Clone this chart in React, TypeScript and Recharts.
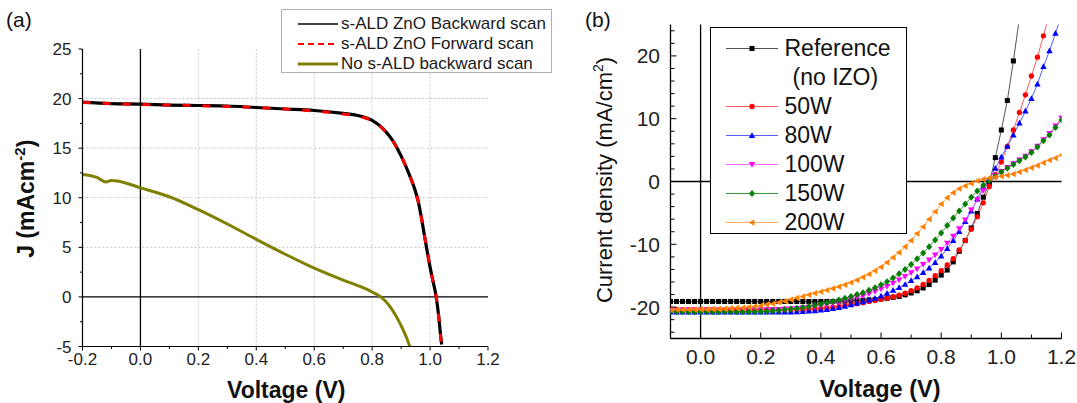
import React from 'react';
import { LineChart, Line, XAxis, YAxis, ReferenceLine, Legend, Label } from 'recharts';

const FONT = '"Liberation Sans", Arial, Helvetica, sans-serif';

// ---------------- Panel (a) data ----------------
const aScanV = [-0.2, -0.1, 0, 0.1, 0.2, 0.3, 0.4, 0.5, 0.6, 0.7, 0.75, 0.8, 0.84, 0.87, 0.89, 0.91, 0.93, 0.95, 0.96, 0.97, 0.98, 0.99, 1.0, 1.01, 1.02, 1.03, 1.035, 1.04];
const aBackwardJ = [19.65, 19.5, 19.45, 19.35, 19.3, 19.25, 19.1, 18.95, 18.8, 18.5, 18.3, 17.8, 16.9, 15.8, 14.8, 13.6, 12.2, 10.6, 9.5, 8.0, 6.3, 4.6, 3.0, 1.6, 0.2, -2.0, -3.5, -4.8];
const aForwardJ = [19.6, 19.5, 19.4, 19.35, 19.3, 19.2, 19.1, 18.95, 18.75, 18.45, 18.25, 17.75, 16.85, 15.8, 14.8, 13.6, 12.2, 10.6, 9.5, 8.0, 6.3, 4.6, 3.0, 1.6, 0.2, -2.1, -3.6, -4.9];
const aNoAldV = [-0.2, -0.15, -0.12, -0.1, -0.08, 0, 0.1, 0.2, 0.3, 0.4, 0.5, 0.6, 0.7, 0.75, 0.8, 0.83, 0.86, 0.88, 0.9, 0.92, 0.93];
const aNoAldJ = [12.35, 12.05, 11.6, 11.75, 11.7, 11.0, 10.1, 8.8, 7.35, 5.8, 4.3, 2.9, 1.7, 1.15, 0.5, 0.0, -0.9, -1.8, -2.9, -4.2, -5.0];

const aXTicks = [-0.2, -0.1, 0, 0.1, 0.2, 0.3, 0.4, 0.5, 0.6, 0.7, 0.8, 0.9, 1.0, 1.1, 1.2];
const aXMajor = [-0.2, 0, 0.2, 0.4, 0.6, 0.8, 1.0, 1.2];
const aYTicks = [-5, -2.5, 0, 2.5, 5, 7.5, 10, 12.5, 15, 17.5, 20, 22.5, 25];
const aYMajor = [-5, 0, 5, 10, 15, 20, 25];
const aGridX = [0.2, 0.4, 0.6, 0.8, 1.0];
const aGridY = [5, 10, 15, 20];

const aLegendNames = ['s-ALD ZnO Backward scan', 's-ALD ZnO Forward scan', 'No s-ALD backward scan'];

// ---------------- Panel (b) data ----------------
const bV = [-0.1, -0.08, -0.06, -0.04, -0.02, 0, 0.02, 0.04, 0.06, 0.08, 0.1, 0.12, 0.14, 0.16, 0.18, 0.2, 0.22, 0.24, 0.26, 0.28, 0.3, 0.32, 0.34, 0.36, 0.38, 0.4, 0.42, 0.44, 0.46, 0.48, 0.5, 0.52, 0.54, 0.56, 0.58, 0.6, 0.62, 0.64, 0.66, 0.68, 0.7, 0.72, 0.74, 0.76, 0.78, 0.8, 0.82, 0.84, 0.86, 0.88, 0.9, 0.92, 0.94, 0.96, 0.98, 1.0, 1.02, 1.04, 1.06, 1.08, 1.1, 1.12, 1.14, 1.16, 1.18, 1.2];

const bReference = [
  -19.1, -19.1, -19.1, -19.1, -19.1,
  -19.1, -19.1, -19.1, -19.1, -19.1,
  -19.1, -19.1, -19.1, -19.1, -19.1,
  -19.1, -19.1, -19.1, -19.1, -19.1,
  -19.1, -19.1, -19.1, -19.1, -19.1,
  -19.1, -19.1, -19.1, -19.05, -19.05,
  -19.0, -18.95, -18.9, -18.85, -18.8,
  -18.7, -18.6, -18.45, -18.3, -18.05,
  -17.75, -17.4, -16.95, -16.4, -15.7,
  -14.9, -14.1, -12.8, -11.1, -9.4,
  -7.4, -5.1, -2.5, -0.3, 3.8,
  8.2, 12.9, 19.2, 26.0,
];
const b50W = [
  -20.4, -20.4, -20.4, -20.4, -20.4,
  -20.4, -20.4, -20.4, -20.4, -20.4,
  -20.4, -20.4, -20.4, -20.4, -20.4,
  -20.4, -20.4, -20.4, -20.4, -20.4,
  -20.4, -20.35, -20.35, -20.3, -20.25,
  -20.2, -20.1, -20.0, -19.9, -19.75,
  -19.6, -19.45, -19.3, -19.1, -18.95,
  -18.75, -18.55, -18.35, -18.1, -17.8,
  -17.4, -16.95, -16.4, -15.75, -15.0,
  -14.2, -13.3, -12.3, -10.9, -9.4,
  -7.6, -5.6, -3.4, -0.8, 1.1,
  3.1, 5.6, 8.2, 11.0, 13.8,
  16.8, 19.8, 23.2, 26.8,
];
const b80W = [
  -20.8, -20.8, -20.8, -20.8, -20.8,
  -20.8, -20.8, -20.8, -20.8, -20.8,
  -20.8, -20.8, -20.8, -20.8, -20.8,
  -20.8, -20.8, -20.8, -20.8, -20.8,
  -20.8, -20.75, -20.7, -20.65, -20.6,
  -20.5, -20.4, -20.25, -20.1, -19.9,
  -19.65, -19.4, -19.15, -18.9, -18.6,
  -18.25, -17.8, -17.35, -16.9, -16.4,
  -15.8, -15.2, -14.5, -13.8, -12.9,
  -11.9, -10.7, -9.4, -8.0, -6.4,
  -4.7, -2.8, -0.9, 0.4, 2.1,
  3.9, 5.6, 7.4, 9.3, 11.2,
  13.2, 15.5, 18.3, 20.8, 23.6, 26.5,
];
const b100W = [
  -20.45, -20.45, -20.45, -20.45, -20.45,
  -20.45, -20.45, -20.45, -20.45, -20.45,
  -20.45, -20.45, -20.45, -20.45, -20.45,
  -20.45, -20.4, -20.4, -20.35, -20.3,
  -20.25, -20.2, -20.1, -20.0, -19.9,
  -19.75, -19.6, -19.4, -19.2, -18.95,
  -18.7, -18.45, -18.2, -17.85, -17.5,
  -17.1, -16.7, -16.2, -15.65, -15.1,
  -14.5, -13.9, -13.2, -12.5, -11.7,
  -10.8, -9.8, -8.7, -7.5, -6.1,
  -4.5, -2.9, -1.4, 0.1, 0.95,
  1.6, 2.25, 2.85, 3.45, 4.05,
  4.75, 5.65, 6.65, 7.65, 8.85, 10.15,
];
const b150W = [
  -20.75, -20.75, -20.75, -20.75, -20.75,
  -20.75, -20.75, -20.75, -20.75, -20.75,
  -20.75, -20.75, -20.75, -20.75, -20.75,
  -20.7, -20.65, -20.6, -20.5, -20.4,
  -20.3, -20.2, -20.05, -19.9, -19.7,
  -19.5, -19.3, -19.1, -18.85, -18.6,
  -18.3, -18.0, -17.7, -17.3, -16.9,
  -16.45, -15.95, -15.35, -14.7, -14.0,
  -13.2, -12.3, -11.4, -10.4, -9.3,
  -8.2, -7.0, -5.8, -4.7, -3.6,
  -2.5, -1.5, -0.6, 0.2, 0.8,
  1.5, 2.1, 2.7, 3.3, 3.9,
  4.6, 5.5, 6.5, 7.4, 8.6, 9.8,
];
const b200W = [
  -20.4, -20.4, -20.4, -20.4, -20.4,
  -20.35, -20.35, -20.3, -20.3, -20.25,
  -20.2, -20.15, -20.1, -20.0, -19.9,
  -19.8, -19.6, -19.45, -19.25, -19.05,
  -18.8, -18.55, -18.3, -18.05, -17.8,
  -17.55, -17.3, -17.05, -16.75, -16.45,
  -16.1, -15.7, -15.25, -14.75, -14.2,
  -13.6, -12.9, -12.1, -11.3, -10.4,
  -9.4, -8.3, -7.2, -6.0, -4.8,
  -3.6, -2.6, -1.8, -1.15, -0.7,
  -0.3, 0.1, 0.35, 0.55, 0.7,
  0.85, 1.0, 1.2, 1.5, 1.85,
  2.2, 2.55, 3.0, 3.4, 3.75, 4.2,
];

const bXTicks = [-0.1, 0, 0.1, 0.2, 0.3, 0.4, 0.5, 0.6, 0.7, 0.8, 0.9, 1.0, 1.1, 1.2];
const bXMajor = [0, 0.2, 0.4, 0.6, 0.8, 1.0, 1.2];
const bYTicks = [-24, -22, -20, -18, -16, -14, -12, -10, -8, -6, -4, -2, 0, 2, 4, 6, 8, 10, 12, 14, 16, 18, 20, 22, 24];
const bYMajor = [-20, -10, 0, 10, 20];

const bNames = ['Reference', '50W', '80W', '100W', '150W', '200W'];
const bSeriesValues = [bReference, b50W, b80W, b100W, b150W, b200W];
const bMarkerColors = ['#000000', '#ff0000', '#0000ff', '#ff00ff', '#008000', '#ff8000'];
const bLineColors = ['#555555', '#ff5a5a', '#5a5aff', '#ff66ff', '#3a9a3a', '#ffaa60'];
const bShapes = ['square', 'circle', 'up', 'down', 'diamond', 'left'];

// ---------------- helpers ----------------
const isIn = (arr: number[], v: number) => arr.some((m) => Math.abs(m - v) < 1e-9);

type TickCfg = {
  side: 'bottom' | 'left' | 'top' | 'right';
  inward: boolean;
  major: number[];
  majorLen: number;
  minorLen: number;
  fontSize: number;
  gap: number;
  label: boolean;
  fmt: (v: number) => string;
  color: string;
};

const makeTick = (cfg: TickCfg) => (props: any) => {
  const { x, y, payload, index } = props;
  const v = payload.value as number;
  const major = isIn(cfg.major, v);
  const len = major ? cfg.majorLen : cfg.minorLen;
  const d = cfg.inward ? -1 : 1;
  let x2 = x;
  let y2 = y;
  if (cfg.side === 'bottom') y2 = y + d * len;
  if (cfg.side === 'top') y2 = y - d * len;
  if (cfg.side === 'left') x2 = x - d * len;
  if (cfg.side === 'right') x2 = x + d * len;
  let text = null;
  if (cfg.label && major) {
    if (cfg.side === 'bottom') {
      text = (
        <text x={x} y={y + cfg.gap} textAnchor="middle" fontSize={cfg.fontSize} fill={cfg.color} fontFamily={FONT}>
          {cfg.fmt(v)}
        </text>
      );
    } else if (cfg.side === 'left') {
      text = (
        <text x={x - cfg.gap} y={y} dy="0.36em" textAnchor="end" fontSize={cfg.fontSize} fill={cfg.color} fontFamily={FONT}>
          {cfg.fmt(v)}
        </text>
      );
    }
  }
  return (
    <g key={`t-${index}-${v}`}>
      <line x1={x} y1={y} x2={x2} y2={y2} stroke="#000" strokeWidth={1} />
      {text}
    </g>
  );
};

const fmt1 = (v: number) => v.toFixed(1);
const fmt0 = (v: number) => String(Math.round(v));

function Marker({ shape, cx, cy, color }: { shape: string; cx: number; cy: number; color: string }) {
  const h = 2.8;
  switch (shape) {
    case 'square':
      return <rect x={cx - h * 0.9} y={cy - h * 0.9} width={h * 1.8} height={h * 1.8} fill={color} />;
    case 'circle':
      return <circle cx={cx} cy={cy} r={h * 0.95} fill={color} />;
    case 'up':
      return <polygon points={`${cx},${cy - h * 1.2} ${cx - h * 1.15},${cy + h * 0.85} ${cx + h * 1.15},${cy + h * 0.85}`} fill={color} />;
    case 'down':
      return <polygon points={`${cx},${cy + h * 1.2} ${cx - h * 1.15},${cy - h * 0.85} ${cx + h * 1.15},${cy - h * 0.85}`} fill={color} />;
    case 'diamond':
      return <polygon points={`${cx},${cy - h * 1.25} ${cx + h * 1.1},${cy} ${cx},${cy + h * 1.25} ${cx - h * 1.1},${cy}`} fill={color} />;
    default:
      return <polygon points={`${cx - h * 1.2},${cy} ${cx + h * 0.85},${cy - h * 1.15} ${cx + h * 0.85},${cy + h * 1.15}`} fill={color} />;
  }
}

const makeDot = (shape: string, color: string) => (p: any) => {
  if (p.cx == null || p.cy == null || isNaN(p.cx) || isNaN(p.cy)) return <g key={`d-${p.index}`} />;
  return (
    <g key={`d-${p.index}`}>
      <Marker shape={shape} cx={p.cx} cy={p.cy} color={color} />
    </g>
  );
};

// ---------------- legends ----------------
function LegendA() {
  const rows = [
    { stroke: '#000', dash: undefined as string | undefined, w: 1.6 },
    { stroke: '#ff0000', dash: '6 4', w: 1.8 },
    { stroke: '#808000', dash: undefined, w: 3 },
  ];
  return (
    <div
      style={{
        width: 271,
        height: 64,
        boxSizing: 'border-box',
        border: '1px solid #b0b0b0',
        background: '#fff',
        position: 'relative',
        fontFamily: FONT,
      }}
    >
      {aLegendNames.map((name, i) => (
        <div key={name} style={{ position: 'absolute', left: 0, top: 4 + i * 20, height: 20, width: 271 }}>
          <svg width={58} height={20} style={{ position: 'absolute', left: 0, top: 0 }}>
            <line x1={16} x2={56} y1={10} y2={10} stroke={rows[i].stroke} strokeWidth={rows[i].w} strokeDasharray={rows[i].dash} />
          </svg>
          <span style={{ position: 'absolute', left: 59, top: 0, fontSize: 17, lineHeight: '20px', color: '#1a1a1a', whiteSpace: 'nowrap' }}>{name}</span>
        </div>
      ))}
    </div>
  );
}

function LegendB() {
  const rowTop = (k: number) => 6 + k * 29;
  const items = bNames.map((name, i) => ({ name, i, row: i === 0 ? 0 : i + 1 }));
  return (
    <div
      style={{
        width: 197,
        height: 207,
        boxSizing: 'border-box',
        border: '1px solid #000',
        background: '#fff',
        position: 'relative',
        fontFamily: FONT,
      }}
    >
      {items.map(({ name, i, row }) => (
        <div key={name} style={{ position: 'absolute', left: 0, top: rowTop(row), height: 29, width: 195 }}>
          <svg width={72} height={29} style={{ position: 'absolute', left: 0, top: 0 }}>
            <line x1={15} x2={67} y1={14.5} y2={14.5} stroke={bLineColors[i]} strokeWidth={1} />
            <Marker shape={bShapes[i]} cx={41} cy={14.5} color={bMarkerColors[i]} />
          </svg>
          <span style={{ position: 'absolute', left: 74, top: 0, fontSize: 23, lineHeight: '29px', color: '#111', whiteSpace: 'nowrap' }}>{name}</span>
        </div>
      ))}
      <div style={{ position: 'absolute', left: 82, top: rowTop(1), height: 29, fontSize: 23, lineHeight: '29px', color: '#111', whiteSpace: 'nowrap' }}>(no IZO)</div>
    </div>
  );
}

// ---------------- panels ----------------
function PanelA() {
  const back = aScanV.map((v, i) => ({ v, j: aBackwardJ[i] }));
  const fwd = aScanV.map((v, i) => ({ v, j: aForwardJ[i] }));
  const noAld = aNoAldV.map((v, i) => ({ v, j: aNoAldJ[i] }));
  const xTick = makeTick({ side: 'bottom', inward: false, major: aXMajor, majorLen: 4, minorLen: 2.5, fontSize: 17, gap: 18, label: true, fmt: fmt1, color: '#222' });
  const yTick = makeTick({ side: 'left', inward: false, major: aYMajor, majorLen: 4, minorLen: 2.5, fontSize: 17, gap: 11, label: true, fmt: fmt0, color: '#222' });
  return (
    <LineChart width={560} height={403} margin={{ top: 49, right: 72, bottom: 26.5, left: 22.5 }}>
      <XAxis
        xAxisId={0}
        type="number"
        dataKey="v"
        domain={[-0.2, 1.2]}
        allowDataOverflow
        ticks={aXTicks}
        interval={0}
        tickSize={0}
        tickMargin={0}
        tickLine={false}
        tick={xTick}
        axisLine={{ stroke: '#000', strokeWidth: 1.2 }}
        height={30}
      >
        <Label
          content={(p: any) => {
            const vb = p.viewBox || { x: 82.5, y: 346.5, width: 405.5 };
            return (
              <text x={vb.x + vb.width / 2 + 1} y={vb.y + 51.5} textAnchor="middle" fontSize={23} fontWeight="bold" fill="#111" fontFamily={FONT}>
                Voltage (V)
              </text>
            );
          }}
        />
      </XAxis>
      <XAxis xAxisId="top" orientation="top" type="number" dataKey="v" domain={[-0.2, 1.2]} allowDataOverflow height={0} tick={false} tickLine={false} axisLine={{ stroke: '#000', strokeWidth: 1.2 }} />
      <YAxis
        yAxisId={0}
        type="number"
        domain={[-5, 25]}
        allowDataOverflow
        ticks={aYTicks}
        interval={0}
        tickSize={0}
        tickMargin={0}
        tickLine={false}
        tick={yTick}
        axisLine={{ stroke: '#000', strokeWidth: 1.2 }}
        width={60}
      >
        <Label
          content={(p: any) => {
            const vb = p.viewBox || { x: 22.5, y: 49, height: 297.5 };
            const cx = vb.x + 11.5;
            const cy = vb.y + vb.height / 2 + 1;
            return (
              <text x={cx} y={cy} transform={`rotate(-90, ${cx}, ${cy})`} textAnchor="middle" fontSize={23} fontWeight="bold" fill="#111" fontFamily={FONT}>
                J (mAcm
                <tspan dy={-9} fontSize={15}>-2</tspan>
                <tspan dy={9}>)</tspan>
              </text>
            );
          }}
        />
      </YAxis>
      <YAxis yAxisId="right" orientation="right" type="number" domain={[-5, 25]} allowDataOverflow width={0} tick={false} tickLine={false} axisLine={{ stroke: '#000', strokeWidth: 1.2 }} />
      {aGridX.map((g) => (
        <ReferenceLine key={`gx${g}`} x={g} stroke="#c4c4c4" strokeDasharray="2 2" strokeWidth={1} />
      ))}
      {aGridY.map((g) => (
        <ReferenceLine key={`gy${g}`} y={g} stroke="#c4c4c4" strokeDasharray="2 2" strokeWidth={1} />
      ))}
      <ReferenceLine x={0} stroke="#000" strokeWidth={1.3} />
      <ReferenceLine y={0} stroke="#000" strokeWidth={1.3} />
      <Line data={back} dataKey="j" type="monotone" stroke="#000" strokeWidth={3.2} dot={false} isAnimationActive={false} />
      <Line data={fwd} dataKey="j" type="monotone" stroke="#ff0000" strokeWidth={3} strokeDasharray="8 12" dot={false} isAnimationActive={false} />
      <Line data={noAld} dataKey="j" type="monotone" stroke="#808000" strokeWidth={3} dot={false} isAnimationActive={false} />
      <Legend
        content={() => <LegendA />}
        layout="vertical"
        verticalAlign="middle"
        align="center"
        width={271}
        height={64}
        wrapperStyle={{ left: 281, top: 9, width: 271, height: 64 }}
      />
    </LineChart>
  );
}

function PanelB() {
  const seriesData = bSeriesValues.map((vals) => vals.map((j, i) => ({ v: bV[i], j })));
  const xTick = makeTick({ side: 'bottom', inward: true, major: bXMajor, majorLen: 6, minorLen: 4, fontSize: 21, gap: 25.5, label: true, fmt: fmt1, color: '#222' });
  const xTopTick = makeTick({ side: 'top', inward: true, major: bXMajor, majorLen: 6, minorLen: 4, fontSize: 21, gap: 0, label: false, fmt: fmt1, color: '#222' });
  const yTick = makeTick({ side: 'left', inward: true, major: bYMajor, majorLen: 6, minorLen: 4, fontSize: 21, gap: 10.5, label: true, fmt: fmt0, color: '#222' });
  const yRightTick = makeTick({ side: 'right', inward: true, major: bYMajor, majorLen: 6, minorLen: 4, fontSize: 21, gap: 0, label: false, fmt: fmt0, color: '#222' });
  return (
    <LineChart width={517} height={403} margin={{ top: 24.5, right: 15.5, bottom: 34.5, left: 50.5 }}>
      <XAxis
        xAxisId={0}
        type="number"
        dataKey="v"
        domain={[-0.1, 1.2]}
        allowDataOverflow
        ticks={bXTicks}
        interval={0}
        tickSize={0}
        tickMargin={0}
        tickLine={false}
        tick={xTick}
        axisLine={{ stroke: '#000', strokeWidth: 1.3 }}
        height={30}
      >
        <Label
          content={(p: any) => {
            const vb = p.viewBox || { x: 110.5, y: 338.5, width: 391 };
            return (
              <text x={vb.x + vb.width / 2 + 14} y={vb.y + 58.5} textAnchor="middle" fontSize={23.5} fontWeight="bold" fill="#111" fontFamily={FONT}>
                Voltage (V)
              </text>
            );
          }}
        />
      </XAxis>
      <XAxis xAxisId="top" orientation="top" type="number" dataKey="v" domain={[-0.1, 1.2]} allowDataOverflow ticks={bXTicks} interval={0} tickSize={0} tickMargin={0} tickLine={false} tick={xTopTick} height={0} axisLine={{ stroke: '#000', strokeWidth: 1.3 }} />
      <YAxis
        yAxisId={0}
        type="number"
        domain={[-25, 25]}
        allowDataOverflow
        ticks={bYTicks}
        interval={0}
        tickSize={0}
        tickMargin={0}
        tickLine={false}
        tick={yTick}
        axisLine={{ stroke: '#000', strokeWidth: 1.3 }}
        width={60}
      >
        <Label
          content={(p: any) => {
            const vb = p.viewBox || { x: 50.5, y: 24.5, height: 314 };
            const cx = vb.x + 1.5;
            const cy = vb.y + vb.height / 2 - 1.5;
            return (
              <text x={cx} y={cy} transform={`rotate(-90, ${cx}, ${cy})`} textAnchor="middle" fontSize={22} fill="#111" fontFamily={FONT}>
                Current density (mA/cm
                <tspan dy={-9} fontSize={14}>2</tspan>
                <tspan dy={9}>)</tspan>
              </text>
            );
          }}
        />
      </YAxis>
      <YAxis yAxisId="right" orientation="right" type="number" domain={[-25, 25]} allowDataOverflow ticks={bYTicks} interval={0} tickSize={0} tickMargin={0} tickLine={false} tick={yRightTick} width={0} axisLine={{ stroke: '#000', strokeWidth: 1.3 }} />
      <ReferenceLine x={0} stroke="#000" strokeWidth={1.3} />
      <ReferenceLine y={0} stroke="#000" strokeWidth={1.3} />
      {seriesData.map((d, i) => (
        <Line
          key={bNames[i]}
          data={d}
          dataKey="j"
          type="linear"
          stroke={bLineColors[i]}
          strokeWidth={1}
          dot={makeDot(bShapes[i], bMarkerColors[i])}
          activeDot={false}
          isAnimationActive={false}
        />
      ))}
      <Legend
        content={() => <LegendB />}
        layout="vertical"
        verticalAlign="middle"
        align="center"
        width={197}
        height={207}
        wrapperStyle={{ left: 149.5, top: 27, width: 197, height: 207 }}
      />
    </LineChart>
  );
}

export default function App() {
  return (
    <div style={{ position: 'absolute', left: 0, top: 0, width: 1077, height: 403, background: '#fff', fontFamily: FONT, overflow: 'hidden' }}>
      <div style={{ position: 'absolute', left: 0, top: 0 }}>
        <PanelA />
      </div>
      <div style={{ position: 'absolute', left: 560, top: 0 }}>
        <PanelB />
      </div>
      <div style={{ position: 'absolute', left: 6, top: 8, fontSize: 21, lineHeight: '24px', color: '#111' }}>(a)</div>
      <div style={{ position: 'absolute', left: 585, top: 8, fontSize: 21, lineHeight: '24px', color: '#111' }}>(b)</div>
    </div>
  );
}
